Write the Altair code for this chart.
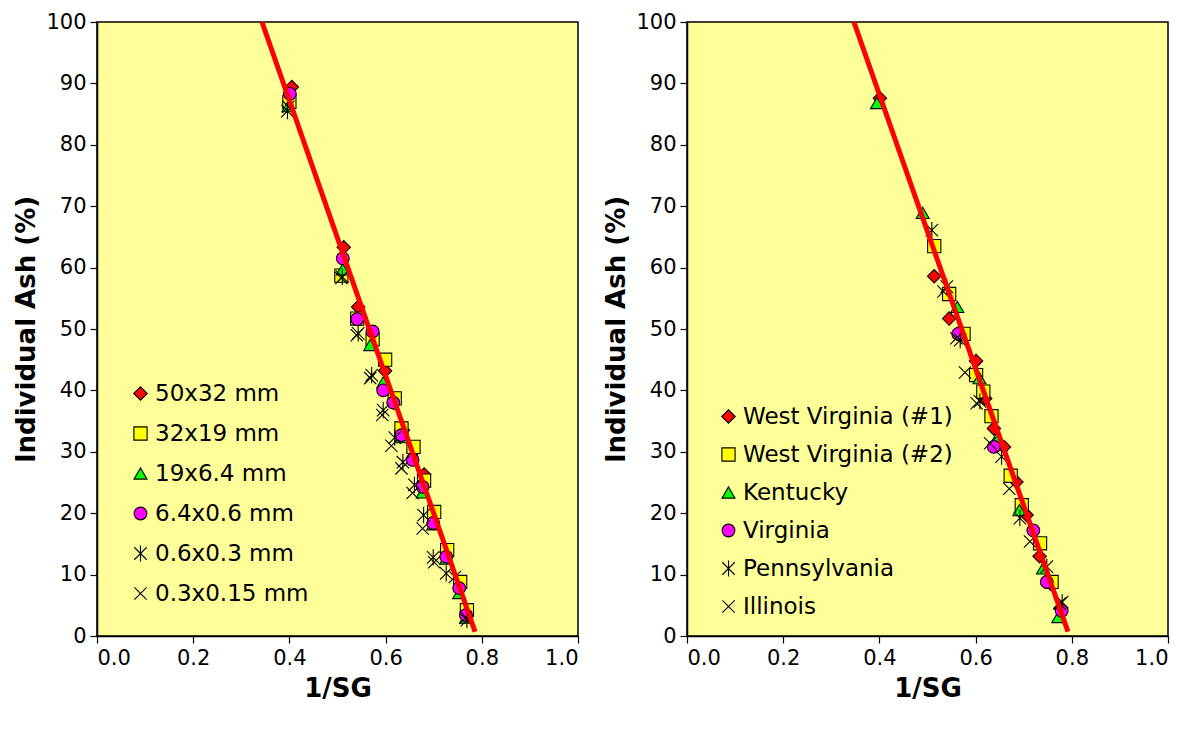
import altair as alt
import pandas as pd

# ---------------- data ----------------
left_series = ["50x32 mm", "32x19 mm", "19x6.4 mm", "6.4x0.6 mm", "0.6x0.3 mm", "0.3x0.15 mm"]
left_x = [
    [0.405, 0.513, 0.543, 0.599, 0.617, 0.636, 0.658, 0.680, 0.700, 0.727, 0.754, 0.769],
    [0.400, 0.508, 0.541, 0.573, 0.599, 0.619, 0.633, 0.658, 0.680, 0.701, 0.728, 0.755, 0.769],
    [0.398, 0.511, 0.568, 0.595, 0.632, 0.677, 0.699, 0.726, 0.753, 0.767],
    [0.401, 0.511, 0.541, 0.573, 0.595, 0.616, 0.633, 0.656, 0.677, 0.699, 0.726, 0.753, 0.767],
    [0.396, 0.510, 0.543, 0.571, 0.595, 0.619, 0.636, 0.660, 0.679, 0.699, 0.726, 0.769],
    [0.398, 0.508, 0.540, 0.568, 0.593, 0.612, 0.633, 0.656, 0.677, 0.701, 0.744, 0.767],
]
left_y = [
    [89.4, 63.3, 53.6, 43.2, 38.0, 33.5, 30.0, 26.3, 19.8, 13.6, 7.8, 3.8],
    [87.0, 58.7, 51.7, 48.3, 45.0, 38.7, 33.8, 30.8, 25.3, 20.2, 14.0, 8.8, 4.2],
    [86.3, 59.7, 47.4, 41.3, 32.4, 23.4, 18.2, 12.6, 7.0, 3.0],
    [88.3, 61.5, 51.6, 49.6, 40.0, 38.0, 32.7, 28.7, 24.3, 18.4, 12.9, 7.8, 3.4],
    [85.5, 58.5, 49.3, 42.5, 36.8, 32.3, 28.3, 24.6, 19.7, 12.8, 10.2, 2.6],
    [86.2, 58.3, 49.0, 42.0, 36.0, 31.0, 27.3, 23.3, 17.5, 12.0, 9.6, 3.0],
]
left_fit_x = [0.343, 0.786]
left_fit_y = [100.0, 0.7]

right_series = ["West Virginia (#1)", "West Virginia (#2)", "Kentucky", "Virginia", "Pennsylvania", "Illinois"]
right_x = [
    [0.401, 0.514, 0.545, 0.601, 0.620, 0.638, 0.659, 0.685, 0.706, 0.733, 0.756, 0.776],
    [0.514, 0.545, 0.575, 0.601, 0.616, 0.633, 0.673, 0.696, 0.734, 0.758],
    [0.395, 0.490, 0.562, 0.608, 0.644, 0.691, 0.740, 0.772],
    [0.564, 0.638, 0.720, 0.748, 0.779],
    [0.509, 0.540, 0.568, 0.609, 0.654, 0.692, 0.748, 0.780],
    [0.533, 0.560, 0.578, 0.602, 0.630, 0.670, 0.713, 0.775],
]
right_y = [
    [87.6, 58.6, 51.7, 44.8, 38.7, 33.8, 30.8, 25.1, 19.7, 13.0, 8.5, 4.5],
    [63.5, 55.7, 49.2, 42.5, 39.8, 35.8, 26.1, 21.3, 15.1, 8.8],
    [86.8, 68.9, 53.6, 42.0, 32.2, 20.5, 11.0, 3.1],
    [49.2, 30.8, 17.2, 8.8, 4.1],
    [66.1, 56.9, 48.2, 38.2, 29.2, 19.2, 11.3, 5.5],
    [56.1, 48.5, 42.9, 37.9, 31.4, 24.0, 15.4, 5.3],
]
right_fit_x = [0.347, 0.792]
right_fit_y = [100.0, 0.7]

x_ticks = [0.0, 0.2, 0.4, 0.6, 0.8, 1.0]
y_ticks = [0, 10, 20, 30, 40, 50, 60, 70, 80, 90, 100]

# ---------------- styling ----------------
STAR = "M-1,-1L1,1M-1,1L1,-1M0,-1.3L0,1.3"
XMARK = "M-1,-1L1,1M-1,1L1,-1"
shapes = ["diamond", "square", "triangle-up", "circle", STAR, XMARK]
fills = ["#FF0000", "#FFFF00", "#00FF00", "#FF00FF", "transparent", "transparent"]
strokes = ["black"] * 6
sizes = [180, 150, 160, 170, 210, 200]
FONT = "DejaVu Sans"


def long_df(names, xs, ys):
    rows = []
    for n, xx, yy in zip(names, xs, ys):
        for a, b in zip(xx, yy):
            rows.append({"series": n, "sg": a, "ash": b})
    return pd.DataFrame(rows)


def panel(names, xs, ys, fx, fy, lx, ly, row_pad):
    df = long_df(names, xs, ys)
    legend = alt.Legend(
        title=None, orient="none", legendX=lx, legendY=ly,
        labelFont=FONT, labelFontSize=23, labelColor="black", labelOffset=3,
        rowPadding=row_pad, padding=0, symbolStrokeColor="black",
        symbolStrokeWidth=1.1, symbolOpacity=1, labelLimit=400,
    )
    xenc = alt.X("sg:Q", title="1/SG",
                 scale=alt.Scale(domain=[0, 1], nice=False),
                 axis=alt.Axis(values=x_ticks, format=".1f"))
    yenc = alt.Y("ash:Q", title="Individual Ash (%)",
                 scale=alt.Scale(domain=[0, 100], nice=False),
                 axis=alt.Axis(values=y_ticks))
    pts = alt.Chart(df).mark_point(
        filled=True, strokeWidth=1.1, opacity=1, fillOpacity=1
    ).encode(
        x=xenc, y=yenc,
        shape=alt.Shape("series:N", scale=alt.Scale(domain=names, range=shapes), legend=legend),
        fill=alt.Fill("series:N", scale=alt.Scale(domain=names, range=fills), legend=legend),
        stroke=alt.Stroke("series:N", scale=alt.Scale(domain=names, range=strokes), legend=legend),
        size=alt.Size("series:N", scale=alt.Scale(domain=names, range=sizes), legend=legend),
    )
    fit = alt.Chart(pd.DataFrame({"sg": fx, "ash": fy})).mark_line(
        color="#FF0000", strokeWidth=5
    ).encode(x="sg:Q", y="ash:Q")
    return alt.layer(pts, fit).properties(width=481, height=614).resolve_scale(
        shape="independent", fill="independent", size="independent", stroke="independent")


left = panel(left_series, left_x, left_y, left_fit_x, left_fit_y, 32, 360, 16)
right = panel(right_series, right_x, right_y, right_fit_x, right_fit_y, 30, 383, 14)

chart = alt.hconcat(left, right, spacing=23).resolve_scale(
    shape="independent", fill="independent", size="independent", stroke="independent"
).configure(
    padding={"left": 13, "top": 10, "right": 5, "bottom": 5},
    background="white",
).configure_view(
    fill="#FFFF99", stroke="black", strokeWidth=1.5
).configure_axis(
    grid=False, domainColor="black", domainWidth=1.5, tickColor="black",
    tickSize=7, tickWidth=1.2, labelFont=FONT, labelFontSize=21, labelColor="black",
    labelPadding=4, titleFont=FONT, titleFontSize=26, titleFontWeight="bold",
    titleColor="black",
).configure_axisY(titlePadding=6).configure_axisX(titlePadding=7)

chart.save("out.html", embed_options={"renderer": "svg", "actions": False})
